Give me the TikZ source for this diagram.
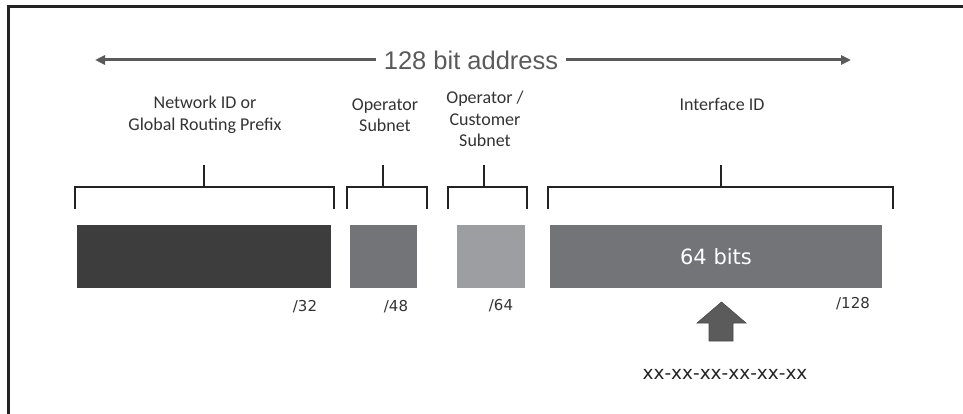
\documentclass[tikz,border=0pt]{standalone}
\usepackage{fontspec}
\setmainfont{Carlito}
\newfontfamily\titlefont{Liberation Sans}
\newfontfamily\verd{DejaVu Sans}
\usetikzlibrary{arrows.meta,shadows}
\definecolor{framec}{HTML}{232323}
\definecolor{arrowc}{HTML}{5A5A5A}
\definecolor{darkc}{HTML}{3D3D3D}
\definecolor{midc}{HTML}{737478}
\definecolor{lightc}{HTML}{9D9EA2}
\definecolor{txtc}{HTML}{333333}
\definecolor{bigarrow}{HTML}{5B5B5B}
\tikzset{
  blk/.style={draw=white, line width=3.5pt, minimum height=66pt, inner sep=0pt,
    drop shadow={shadow xshift=0pt, shadow yshift=-1.5pt, opacity=0.3, fill=gray, shadow scale=1.01}},
  brk/.style={draw=framec, line width=2.5pt},
  hdr/.style={font=\fontsize{18}{21.5}\selectfont, text=txtc, align=center},
  pref/.style={font=\verd\fontsize{15}{16}\selectfont, text=txtc},
  dbl/.style={draw=arrowc, line width=3pt, -{Triangle[length=10pt,width=9pt]}}
}
\begin{document}
\begin{tikzpicture}[x=1pt,y=-1pt]
\useasboundingbox (0,0) rectangle (963,414);
% frame
\draw[framec, line width=3pt] (8,416) -- (8,7) -- (965,7);
% title arrow
\node[font=\titlefont\fontsize{25.5}{28}\selectfont, text=arrowc, inner sep=8pt] (title) at (471,60) {128 bit address};
\coordinate (al) at (95,60);
\coordinate (ar) at (851,60);
\draw[dbl] (title.west) -- (al);
\draw[dbl] (title.east) -- (ar);
% header labels
\node[hdr] (h1) at (205,115) {Network ID or\\Global Routing Prefix};
\node[hdr] (h2) at (385,115) {Operator\\Subnet};
\node[hdr] (h3) at (485,119) {Operator /\\Customer\\Subnet};
\node[hdr] (h4) at (722,104) {Interface ID};
% brackets
\draw[brk] (75,209) -- (75,187) -- (334,187) -- (334,209);
\draw[brk] (204,187) -- (204,165);
\draw[brk] (347,209) -- (347,187) -- (427,187) -- (427,209);
\draw[brk] (383,187) -- (383,165);
\draw[brk] (448,209) -- (448,187) -- (527,187) -- (527,209);
\draw[brk] (484,187) -- (484,165);
\draw[brk] (548,209) -- (548,187) -- (893,187) -- (893,209);
\draw[brk] (721,187) -- (721,165);
% boxes
\node[blk, fill=darkc, minimum width=258pt] (b1) at (204,256.5) {};
\node[blk, fill=midc, minimum width=71pt] (b2) at (383.5,256.5) {};
\node[blk, fill=lightc, minimum width=72pt] (b3) at (491,256.5) {};
\node[blk, fill=midc, minimum width=336pt, font=\verd\fontsize{21}{24}\selectfont, text=white] (b4) at (716,256.5) {64 bits};
% prefix labels
\node[pref] (p1) at (305,307) {/32};
\node[pref] (p2) at (396,307) {/48};
\node[pref] (p3) at (501,306) {/64};
\node[pref] (p4) at (853,304) {/128};
% block arrow
\filldraw[fill=bigarrow, draw=arrowc!80!black, line width=0.6pt]
  (697,323) -- (721.5,302) -- (746,323) -- (733,323) -- (733,341) -- (709,341) -- (709,323) -- cycle;
\node[font=\verd\fontsize{18.5}{20}\selectfont, text=framec] (mac) at (725,374) {xx-xx-xx-xx-xx-xx};
\end{tikzpicture}
\end{document}
